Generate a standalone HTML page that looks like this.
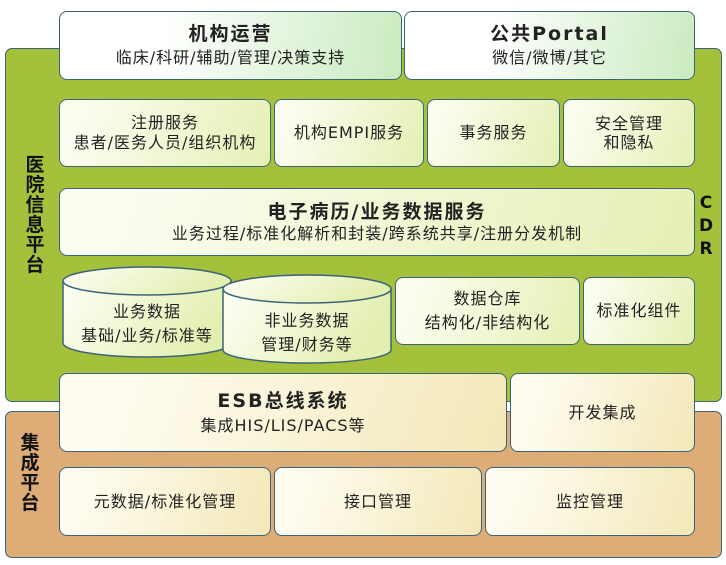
<!DOCTYPE html>
<html><head><meta charset="utf-8"><style>
body{margin:0;width:726px;height:565px;background:#fff;position:relative;overflow:hidden;font-family:"DejaVu Sans","Noto Sans CJK SC",sans-serif;color:#222}
.p{position:absolute;border:1.5px solid #3c6478;border-radius:7px;box-sizing:border-box}
.b{position:absolute;border:1.5px solid #3c6478;border-radius:8px;box-sizing:border-box;display:flex;flex-direction:column;justify-content:center;align-items:center;text-align:center;font-size:16px;line-height:20px;letter-spacing:1px;white-space:nowrap}
.t{background:linear-gradient(100deg,#fff 30%,#c9ebbf)}
.g{background:linear-gradient(110deg,#fbfdf0 10%,#e5f0b5)}
.y{background:linear-gradient(110deg,#fffdf2 10%,#f3e8b8)}
.h{font-weight:bold;font-size:19px;letter-spacing:2px;line-height:24px}
.v{position:absolute;font-weight:bold;font-size:19px;line-height:20px;width:22px;text-align:center;color:#111}
</style></head><body>
<div class="p" style="left:5px;top:48px;width:717px;height:354px;background:#a3c13a"></div>
<div class="p" style="left:5px;top:411px;width:717px;height:147px;background:#deac76"></div>

<div class="b t" style="left:59px;top:11px;width:343px;height:69px"><div class="h">机构运营</div><div style="line-height:24px">临床/科研/辅助/管理/决策支持</div></div>
<div class="b t" style="left:404px;top:11px;width:291px;height:69px"><div class="h">公共Portal</div><div style="line-height:24px">微信/微博/其它</div></div>

<div class="b g" style="left:59px;top:99px;width:212px;height:68px"><div>注册服务</div><div>患者/医务人员/组织机构</div></div>
<div class="b g" style="left:274px;top:99px;width:150px;height:68px"><div>机构EMPI服务</div></div>
<div class="b g" style="left:427px;top:99px;width:133px;height:68px"><div>事务服务</div></div>
<div class="b g" style="left:563px;top:99px;width:132px;height:68px"><div style="line-height:19px">安全管理<br>和隐私</div></div>

<div class="b g" style="left:59px;top:188px;width:636px;height:68px"><div class="h">电子病历/业务数据服务</div><div>业务过程/标准化解析和封装/跨系统共享/注册分发机制</div></div>

<svg style="position:absolute;left:0;top:0" width="726" height="565">
<defs><linearGradient id="cg" x1="0" x2="1" y1="0" y2="0.3"><stop offset="0.1" stop-color="#fbfdf0"/><stop offset="1" stop-color="#e3efb0"/></linearGradient></defs>
<path d="M63 281 v62 a84 14 0 0 0 168 0 v-62" fill="url(#cg)" stroke="#3c6478" stroke-width="1.5"/>
<ellipse cx="147" cy="281" rx="84" ry="14" fill="url(#cg)" stroke="#3c6478" stroke-width="1.5"/>
<path d="M223 289 v61 a84 13 0 0 0 168 0 v-61" fill="url(#cg)" stroke="#3c6478" stroke-width="1.5"/>
<ellipse cx="307" cy="289" rx="84" ry="14" fill="url(#cg)" stroke="#3c6478" stroke-width="1.5"/>
</svg>
<div style="position:absolute;left:63px;top:300px;width:168px;text-align:center;font-size:16px;line-height:24px;letter-spacing:1px">业务数据<br>基础/业务/标准等</div>
<div style="position:absolute;left:223px;top:309px;width:168px;text-align:center;font-size:16px;line-height:24px;letter-spacing:1px">非业务数据<br>管理/财务等</div>

<div class="b g" style="left:395px;top:277px;width:185px;height:68px"><div style="line-height:24px">数据仓库</div><div style="line-height:24px">结构化/非结构化</div></div>
<div class="b g" style="left:583px;top:277px;width:112px;height:68px"><div>标准化组件</div></div>

<div class="b y" style="left:59px;top:373px;width:448px;height:79px"><div class="h">ESB总线系统</div><div style="margin-top:3px">集成HIS/LIS/PACS等</div></div>
<div class="b y" style="left:510px;top:373px;width:185px;height:79px"><div>开发集成</div></div>

<div class="b y" style="left:59px;top:467px;width:212px;height:69px"><div>元数据/标准化管理</div></div>
<div class="b y" style="left:274px;top:467px;width:208px;height:69px"><div>接口管理</div></div>
<div class="b y" style="left:485px;top:467px;width:210px;height:69px"><div>监控管理</div></div>

<div class="v" style="left:24px;top:155px">医<br>院<br>信<br>息<br>平<br>台</div>
<div class="v" style="left:19px;top:433px">集<br>成<br>平<br>台</div>
<div class="v" style="left:695px;top:192px;font-size:17px;line-height:23px">C<br>D<br>R</div>
</body></html>
